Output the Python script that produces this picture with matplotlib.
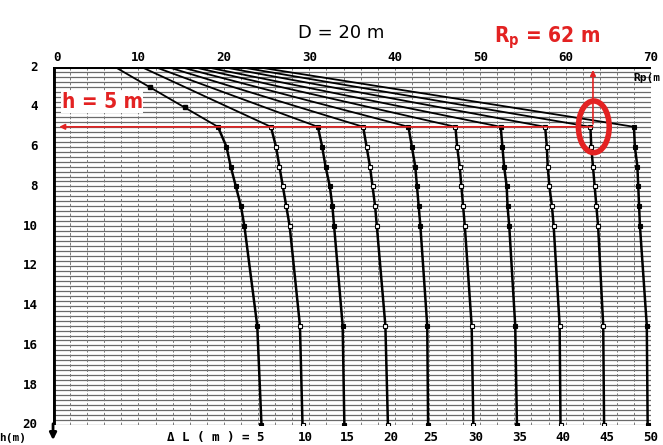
import numpy as np
import matplotlib
matplotlib.use("Agg")
import matplotlib.pyplot as plt
from matplotlib.patches import Ellipse

# depth h (m) where each curve was read
h_top = [2, 5]
h_low = [5, 6, 7, 8, 9, 10, 15, 20]

# Delta L labels for the 10 curves
dL = [5, 10, 15, 20, 25, 30, 35, 40, 45, 50]

# Rp (m) at h = 2 (start of the slanted part)
rp_start = [7.3, 10.4, 12.0, 13.5, 15.0, 16.5, 18.0, 20.0, 22.0, 24.0]

# Rp (m) read at h = 5, 6, 7, 8, 9, 10, 15, 20
rp_dL5 = [19.3, 20.3, 20.8, 21.4, 22.0, 22.4, 23.9, 24.4]
rp_dL10 = [25.5, 26.1, 26.5, 26.9, 27.3, 27.7, 28.9, 29.2]
rp_dL15 = [31.0, 31.5, 31.9, 32.4, 32.7, 32.9, 33.9, 34.1]
rp_dL20 = [36.3, 36.7, 37.1, 37.4, 37.7, 37.9, 38.9, 39.2]
rp_dL25 = [41.6, 42.0, 42.4, 42.6, 42.8, 43.0, 43.8, 43.9]
rp_dL30 = [47.1, 47.3, 47.6, 47.8, 48.0, 48.2, 49.0, 49.2]
rp_dL35 = [52.4, 52.6, 52.8, 53.1, 53.2, 53.4, 54.1, 54.3]
rp_dL40 = [57.6, 57.8, 57.9, 58.1, 58.4, 58.6, 59.3, 59.4]
rp_dL45 = [62.9, 63.0, 63.2, 63.4, 63.6, 63.8, 64.4, 64.5]
rp_dL50 = [68.0, 68.1, 68.4, 68.5, 68.6, 68.7, 69.5, 69.6]
curves = [rp_dL5, rp_dL10, rp_dL15, rp_dL20, rp_dL25,
          rp_dL30, rp_dL35, rp_dL40, rp_dL45, rp_dL50]

# extra markers on the first slanted line
h_extra = [3, 4]
rp_extra = [11.4, 15.5]

filled = [True, False, True, False, True, False, True, False, False, True]

top_ticks = [0, 10, 20, 30, 40, 50, 60, 70]
left_ticks = [2, 4, 6, 8, 10, 12, 14, 16, 18, 20]

fig = plt.figure(figsize=(6.63, 4.45), dpi=100)
ax = fig.add_axes([0.080, 0.045, 0.902, 0.804])
ax.set_xlim(0, 70)
ax.set_ylim(20, 2)

# background grid
for y in np.arange(2, 20.01, 0.25):
    ax.axhline(y, color="#6a6a6a", lw=0.9, zorder=1)
for x in np.arange(2, 70, 2):
    ax.axvline(x, color="#7a7a7a", lw=0.7, ls=(0, (3, 2)), zorder=1)
ax.axhline(2, color="black", lw=2.2, zorder=3)
ax.axvline(0, color="black", lw=3.5, zorder=3)

for i, vals in enumerate(curves):
    ax.plot([rp_start[i], vals[0]], h_top, color="black", lw=1.3, zorder=4)
    ax.plot(vals, h_low, color="black", lw=1.8, zorder=4)
    fc = "black" if filled[i] else "white"
    ax.plot(vals, h_low, ls="none", marker="s", ms=3.5, mfc=fc,
            mec="black", mew=0.8, zorder=5)
ax.plot(rp_extra, h_extra, ls="none", marker="s", ms=3.5, mfc="black",
        mec="black", zorder=5)

for s in ax.spines.values():
    s.set_visible(False)
ax.set_xticks([])
ax.set_yticks([])

tfont = dict(fontsize=9, fontweight="bold", family="DejaVu Sans Mono")
for t in top_ticks:
    ax.text(t, 1.85, f"{t}", ha="left" if t == 0 else "center", va="bottom",
            clip_on=False, **tfont)
for t in left_ticks:
    ax.text(-1.8, t, f"{t}", ha="right", va="center", clip_on=False, **tfont)
ax.text(69.5, 2.55, "Rp(m", ha="center", va="center", clip_on=False,
        fontsize=8, fontweight="bold", family="DejaVu Sans Mono")
ax.text(-6.3, 20.65, "h(m)", ha="left", va="center", clip_on=False,
        fontsize=8, fontweight="bold", family="DejaVu Sans Mono")
ax.annotate("", xy=(0, 20.9), xytext=(0, 19.8), annotation_clip=False,
            arrowprops=dict(arrowstyle="-|>", color="black", lw=2))

for i, vals in enumerate(curves):
    lab = f"\u0394 L ( m ) = {dL[i]}" if i == 0 else f"{dL[i]}"
    ax.text(vals[-1] + 0.3, 20.65, lab, ha="right" if i == 0 else "center",
            va="center", clip_on=False, fontsize=9, fontweight="bold",
            family="DejaVu Sans Mono")

fig.text(0.515, 0.925, "D = 20 m", ha="center", va="center", fontsize=13,
         family="DejaVu Sans")

# red annotations
red = "#e32222"
ax.annotate("", xy=(0.4, 5), xytext=(63.5, 5),
            arrowprops=dict(arrowstyle="-|>", color=red, lw=1.2,
                            mutation_scale=8), zorder=6)
ax.annotate("", xy=(63.2, 2.0), xytext=(63.2, 5),
            arrowprops=dict(arrowstyle="-|>", color=red, lw=1.2,
                            mutation_scale=8), annotation_clip=False,
            zorder=6)
ax.add_patch(Ellipse((63.3, 5.0), 3.6, 2.6, fill=False, ec=red, lw=4,
                     zorder=7))
ax.text(1.0, 3.75, "h = 5 m", color=red, fontsize=15, fontweight="bold",
        fontstretch="condensed", va="center", ha="left", zorder=6,
        bbox=dict(facecolor="white", edgecolor="none", pad=0.5))
fig.text(0.825, 0.915, "R$_\\mathregular{p}$ = 62 m", color=red,
         fontsize=15, fontweight="bold", fontstretch="condensed",
         ha="center", va="center")

fig.savefig("out.png", dpi=100)
